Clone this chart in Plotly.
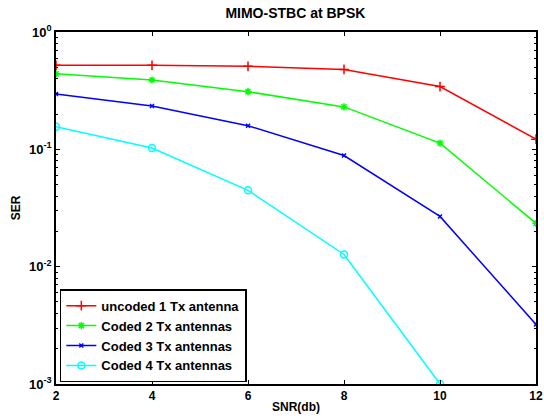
import plotly.graph_objects as go

snr = [2, 4, 6, 8, 10, 12]
uncoded_1tx = [0.52, 0.52, 0.51, 0.48, 0.343, 0.122]
coded_2tx = [0.44, 0.39, 0.31, 0.23, 0.113, 0.0234]
coded_3tx = [0.296, 0.234, 0.159, 0.0885, 0.0268, 0.00322]
snr_4tx = [2, 4, 6, 8, 10]
coded_4tx = [0.156, 0.1026, 0.0447, 0.0127, 0.001]

x_ticks = [2, 4, 6, 8, 10, 12]
y_ticks = [1, 0.1, 0.01, 0.001]
y_labels = ["<b>10<sup>0</sup></b>", "<b>10<sup>-1</sup></b>", "<b>10<sup>-2</sup></b>", "<b>10<sup>-3</sup></b>"]

FONT = "Liberation Sans, Arial, sans-serif"

fig = go.Figure()
fig.add_trace(go.Scatter(x=snr, y=uncoded_1tx, mode="lines+markers", name="<b>uncoded 1 Tx antenna</b>",
                         line=dict(color="#ff0000", width=1.5),
                         marker=dict(symbol="cross-thin-open", size=7, line=dict(color="#ff0000", width=1.5))))
fig.add_trace(go.Scatter(x=snr, y=coded_2tx, mode="lines+markers", name="<b>Coded 2 Tx antennas</b>",
                         line=dict(color="#00ff00", width=1.5),
                         marker=dict(symbol="asterisk-open", size=6, line=dict(color="#00ff00", width=1.5))))
fig.add_trace(go.Scatter(x=snr, y=coded_3tx, mode="lines+markers", name="<b>Coded 3 Tx antennas</b>",
                         line=dict(color="#0000ff", width=1.5),
                         marker=dict(symbol="x-thin-open", size=4, line=dict(color="#0000ff", width=1.5))))
fig.add_trace(go.Scatter(x=snr_4tx, y=coded_4tx, mode="lines+markers", name="<b>Coded 4 Tx antennas</b>",
                         line=dict(color="#00ffff", width=1.5),
                         marker=dict(symbol="circle-open", size=7, line=dict(color="#00ffff", width=1.5))))

fig.update_layout(
    width=544, height=420,
    margin=dict(l=56, r=8, t=32, b=36, autoexpand=False),
    paper_bgcolor="white", plot_bgcolor="white",
    font=dict(family=FONT, size=12, color="black"),
    title=dict(text="<b>MIMO-STBC at BPSK</b>", x=0.543, xanchor="center", y=0.968, yanchor="middle",
               font=dict(family=FONT, size=14, color="black")),
    showlegend=True,
    legend=dict(x=0.008, y=0.005, xanchor="left", yanchor="bottom",
                bgcolor="white", bordercolor="black", borderwidth=1.5,
                font=dict(family=FONT, size=13, color="black"),
                tracegroupgap=0, itemwidth=30),
)
fig.update_xaxes(
    range=[2, 12], tickvals=x_ticks, ticktext=[f"<b>{v}</b>" for v in x_ticks],
    tickfont=dict(family=FONT, size=12), automargin=False,
    ticks="inside", ticklen=4, tickcolor="black", tickwidth=1,
    showline=True, linecolor="black", linewidth=1.5, mirror="ticks",
    showgrid=False, zeroline=False,
    title=dict(text="<b>SNR(db)</b>", standoff=0, font=dict(family=FONT, size=12)),
)
fig.update_yaxes(
    type="log", range=[-3, 0], tickvals=y_ticks, ticktext=y_labels,
    tickfont=dict(family=FONT, size=13), automargin=False,
    ticks="inside", ticklen=4, tickcolor="black", tickwidth=1,
    showline=True, linecolor="black", linewidth=1.5, mirror="ticks",
    showgrid=False, zeroline=False,
    minor=dict(ticks="inside", ticklen=2, tickcolor="black", dtick="D1", showgrid=False),
    title=dict(text="<b>SER</b>", standoff=6, font=dict(family=FONT, size=12)),
)

fig.write_html("out.html")
